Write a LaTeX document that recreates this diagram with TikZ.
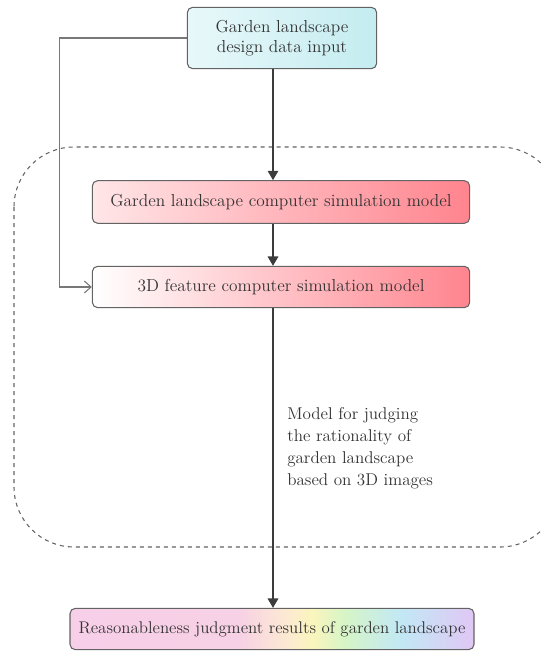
\documentclass[tikz,border=0pt]{standalone}
\usepackage{tikz}
\usepackage{xcolor}
\usetikzlibrary{arrows.meta, positioning, calc}
\definecolor{gardencyanL}{RGB}{232,248,250}
\definecolor{gardencyanR}{RGB}{196,236,240}
\definecolor{gardenpinkL}{RGB}{255,230,232}
\definecolor{gardenpinkR}{RGB}{255,132,142}
\definecolor{gardenline}{RGB}{60,60,60}
\definecolor{gardengrey}{RGB}{120,120,120}
\pgfdeclarehorizontalshading{rainbowbox}{100bp}{
  rgb(0bp)=(0.97,0.81,0.91); rgb(25bp)=(0.97,0.81,0.91);
  rgb(46bp)=(0.97,0.82,0.90); rgb(52bp)=(0.99,0.92,0.82);
  rgb(55bp)=(0.98,0.96,0.74); rgb(59bp)=(0.84,0.96,0.78);
  rgb(66bp)=(0.76,0.91,0.96); rgb(75bp)=(0.88,0.78,0.96);
  rgb(100bp)=(0.88,0.78,0.96)}

\begin{document}
\begin{tikzpicture}[
    x=0.75pt, y=-0.75pt,
    box/.style={rectangle, rounded corners=4pt, draw=gardenline!80, thick,
                font=\fontsize{13}{15}\selectfont, text=black!80,
                inner sep=2pt, align=center},
    flow/.style={-{Triangle[width=8pt,length=7pt]}, gardenline, thick}
]
\useasboundingbox (0,0) rectangle (540,652);

% frame of the judging model
\draw[dashed, gardenline!80, thick, rounded corners=45pt] (14,147) rectangle (560,547);

\node[box, left color=gardencyanL, right color=gardencyanR,
      minimum width=142pt, minimum height=46pt] (input) at (282,38) {Garden landscape\\design data input};
\node[box, left color=gardenpinkL, right color=gardenpinkR,
      minimum width=283pt, minimum height=32pt] (simgarden) at (281,202) {Garden landscape computer simulation model};
\node[box, left color=white, right color=gardenpinkR,
      minimum width=283pt, minimum height=31pt] (sim3d) at (281,287) {3D feature computer simulation model};
\node[box, shading=rainbowbox, font=\fontsize{12.7}{15}\selectfont,
      minimum width=303pt, minimum height=31pt] (result) at (272,629) {Reasonableness judgment results of garden landscape};

\node[anchor=west, align=left, inner sep=0pt, font=\fontsize{12.8}{16.5}\selectfont, text=black!80] (judge) at (287,448)
     {Model for judging\\the rationality of\\garden landscape\\based on 3D images};

\coordinate (axis) at (273,0);
\draw[flow] (input.south -| axis) -- (simgarden.north -| axis);
\draw[flow] (simgarden.south -| axis) -- (sim3d.north -| axis);
\draw[flow] (sim3d.south -| axis) -- (result.north -| axis);
\draw[-{Straight Barb[length=5pt,width=9pt]}, gardengrey, thick] (input.west) -- ++(-127,0) |- (sim3d.west);
\end{tikzpicture}
\end{document}
